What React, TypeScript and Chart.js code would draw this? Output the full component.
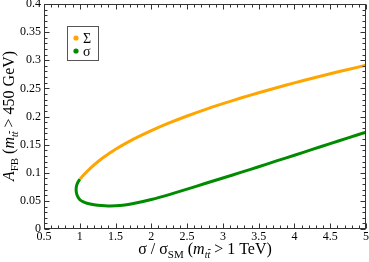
import { useEffect, useRef } from "react";
import { Chart, registerables } from "chart.js";
Chart.register(...registerables);

const orangeX = [1.003, 1.05, 1.1, 1.2, 1.3, 1.4, 1.5, 1.75, 2.0, 2.25, 2.5, 2.75, 3.0, 3.25, 3.5, 3.75, 4.0, 4.25, 4.5, 4.75, 5.0];
const orangeY = [0.0887, 0.0955, 0.102, 0.1138, 0.1245, 0.1334, 0.1417, 0.1597, 0.175, 0.1886, 0.2009, 0.2123, 0.2228, 0.2328, 0.2422, 0.2512, 0.2598, 0.268, 0.276, 0.2837, 0.291];
const greenX = [1.003, 0.98, 0.963, 0.953, 0.949, 0.951, 0.958, 0.97, 0.985, 1.003, 1.05, 1.1, 1.2, 1.3, 1.4, 1.5, 1.6, 1.75, 2.0, 2.25, 2.5, 2.75, 3.0, 3.25, 3.5, 3.75, 4.0, 4.25, 4.5, 4.75, 5.0];
const greenY = [0.0887, 0.0845, 0.08, 0.0755, 0.071, 0.0665, 0.062, 0.058, 0.0547, 0.0518, 0.0482, 0.0458, 0.0432, 0.0416, 0.041, 0.0412, 0.0421, 0.0452, 0.0525, 0.0612, 0.0708, 0.0808, 0.0907, 0.1006, 0.1107, 0.121, 0.1312, 0.1415, 0.1517, 0.162, 0.1722];
const seriesLabels = ["Σ", "σ"];
const seriesColors = ["#ffa500", "#008b00"];
const xMin = 0.5, xMax = 5, xStep = 0.5, xMinor = 0.1;
const yMin = 0, yMax = 0.4, yStep = 0.05, yMinor = 0.01;

const SERIF = "'Liberation Serif', 'Times New Roman', serif";

type Seg = { t: string; f: string; dy?: number; bar?: boolean };

function drawRich(ctx: CanvasRenderingContext2D, segs: Seg[], x: number, y: number, rotate: boolean) {
  ctx.save();
  ctx.translate(x, y);
  if (rotate) ctx.rotate(-Math.PI / 2);
  let total = 0;
  const widths = segs.map((s) => {
    ctx.font = s.f;
    const w = ctx.measureText(s.t).width;
    total += w;
    return w;
  });
  let cx = -total / 2;
  ctx.fillStyle = "#000";
  ctx.strokeStyle = "#000";
  ctx.textBaseline = "alphabetic";
  ctx.textAlign = "left";
  segs.forEach((s, i) => {
    ctx.font = s.f;
    const dy = s.dy || 0;
    ctx.fillText(s.t, cx, dy);
    if (s.bar) {
      const last = s.t[s.t.length - 1];
      const lw = ctx.measureText(last).width;
      const bx = cx + widths[i] - lw;
      ctx.lineWidth = 0.8;
      ctx.beginPath();
      ctx.moveTo(bx + 0.5, dy - 8.5);
      ctx.lineTo(bx + lw + 0.5, dy - 8.5);
      ctx.stroke();
    }
    cx += widths[i];
  });
  ctx.restore();
}

const framePlugin = {
  id: "frame",
  afterDraw(chart: any) {
    const ctx: CanvasRenderingContext2D = chart.ctx;
    const { left, right, top, bottom } = chart.chartArea;
    const xs = chart.scales.x;
    const ys = chart.scales.y;
    ctx.save();
    ctx.strokeStyle = "#333";
    ctx.lineWidth = 1;
    const L = Math.round(left) + 0.5, R = Math.round(right) - 0.5;
    const T = Math.round(top) + 0.5, B = Math.round(bottom) - 0.5;
    ctx.strokeRect(L, T, R - L, B - T);
    ctx.beginPath();
    const nx = Math.round((xMax - xMin) / xMinor);
    for (let i = 0; i <= nx; i++) {
      const v = xMin + i * xMinor;
      const major = i % Math.round(xStep / xMinor) === 0;
      const len = major ? 5 : 3;
      const px = Math.round(xs.getPixelForValue(v)) + 0.5;
      ctx.moveTo(px, B);
      ctx.lineTo(px, B - len);
      ctx.moveTo(px, T);
      ctx.lineTo(px, T + len);
    }
    const ny = Math.round((yMax - yMin) / yMinor);
    for (let i = 0; i <= ny; i++) {
      const v = yMin + i * yMinor;
      const major = i % Math.round(yStep / yMinor) === 0;
      const len = major ? 5 : 3;
      const py = Math.round(ys.getPixelForValue(v)) + 0.5;
      ctx.moveTo(L, py);
      ctx.lineTo(L + len, py);
      ctx.moveTo(R, py);
      ctx.lineTo(R - len, py);
    }
    ctx.stroke();

    // legend
    ctx.strokeStyle = "#555";
    ctx.strokeRect(67.5, 26.5, 31, 34);
    seriesLabels.forEach((lab, i) => {
      const cy = 38 + i * 13;
      ctx.fillStyle = seriesColors[i];
      ctx.beginPath();
      ctx.arc(76, cy, 2.6, 0, Math.PI * 2);
      ctx.fill();
      ctx.fillStyle = "#000";
      ctx.font = "14px " + SERIF;
      ctx.textBaseline = "alphabetic";
      ctx.fillText(lab, 83, cy + 4.5);
    });
    ctx.restore();

    const main = "16px " + SERIF;
    const ital = "italic 16px " + SERIF;
    const sub = "11px " + SERIF;
    const subI = "italic 10px " + SERIF;
    drawRich(
      ctx,
      [
        { t: "σ / σ", f: main },
        { t: "SM", f: sub, dy: 4 },
        { t: " (", f: main },
        { t: "m", f: ital },
        { t: "tt", f: subI, dy: 4, bar: true },
        { t: " > 1 TeV)", f: main },
      ],
      205,
      254,
      false
    );
    drawRich(
      ctx,
      [
        { t: "A", f: ital },
        { t: "FB", f: sub, dy: 4 },
        { t: " (", f: main },
        { t: "m", f: ital },
        { t: "tt", f: subI, dy: 4, bar: true },
        { t: " > 450 GeV)", f: main },
      ],
      14,
      116,
      true
    );
  },
};

export default function App() {
  const ref = useRef<HTMLCanvasElement | null>(null);
  useEffect(() => {
    document.body.style.margin = "0";
    const canvas = ref.current!;
    const fmt = (v: any) => String(Number(Number(v).toFixed(2)));
    const chart = new Chart(canvas, {
      type: "scatter",
      data: {
        datasets: [
          {
            label: seriesLabels[0],
            data: orangeX.map((x, i) => ({ x, y: orangeY[i] })),
            showLine: true,
            borderColor: seriesColors[0],
            backgroundColor: seriesColors[0],
            borderWidth: 3,
            pointRadius: 0,
            tension: 0.3,
          },
          {
            label: seriesLabels[1],
            data: greenX.map((x, i) => ({ x, y: greenY[i] })),
            showLine: true,
            borderColor: seriesColors[1],
            backgroundColor: seriesColors[1],
            borderWidth: 3,
            pointRadius: 0,
            tension: 0.3,
          },
        ],
      },
      options: {
        animation: false,
        responsive: false,
        devicePixelRatio: 1,
        layout: { padding: { left: 0, right: 3, top: 4, bottom: 0 } },
        plugins: { legend: { display: false }, tooltip: { enabled: false } },
        scales: {
          x: {
            type: "linear",
            min: xMin,
            max: xMax,
            grid: { display: false, drawTicks: false },
            border: { display: false },
            ticks: {
              stepSize: xStep,
              padding: 1,
              color: "#000",
              font: { family: SERIF, size: 12 },
              maxRotation: 0,
              autoSkip: false,
              callback: fmt,
            },
            afterFit: (s: any) => {
              s.height = 33;
              s.paddingLeft = 0;
              s.paddingRight = 0;
            },
          },
          y: {
            type: "linear",
            min: yMin,
            max: yMax,
            grid: { display: false, drawTicks: false },
            border: { display: false },
            ticks: {
              stepSize: yStep,
              padding: 3,
              color: "#000",
              font: { family: SERIF, size: 12 },
              autoSkip: false,
              callback: fmt,
            },
            afterFit: (s: any) => {
              s.width = 44;
              s.paddingTop = 0;
              s.paddingBottom = 0;
            },
          },
        },
      },
      plugins: [framePlugin],
    } as any);
    return () => chart.destroy();
  }, []);
  return (
    <div style={{ width: 369, height: 262 }}>
      <canvas ref={ref} width={369} height={262} style={{ width: 369, height: 262, display: "block" }} />
    </div>
  );
}
